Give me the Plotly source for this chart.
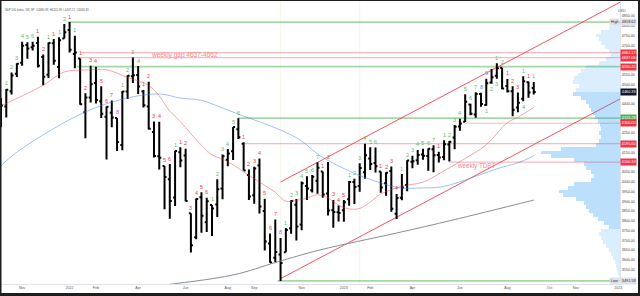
import plotly.graph_objects as go
import pandas as pd

# ---------------- weekly OHLC (S&P 500 Index, 1W) ----------------
first_week = "2021-10-04"
opens = [4348.8, 4385.4, 4463.7, 4553.7, 4610.6, 4701.5, 4689.3, 4712.0, 4640.2, 4548.4,
         4710.3, 4587.9, 4734.0, 4778.1, 4655.3, 4632.2, 4356.3, 4431.8, 4505.8, 4412.6,
         4332.7, 4354.2, 4327.0, 4188.8, 4462.4, 4541.1, 4548.0, 4462.6, 4385.6, 4255.3,
         4130.6, 4081.3, 4013.0, 3919.4, 4151.1, 4134.7, 3838.2, 3715.3, 3920.8, 3792.6,
         3880.9, 3883.8, 3965.7, 4112.4, 4155.9, 4269.4, 4195.1, 4034.6, 3930.9, 4083.7,
         3849.9, 3682.7, 3609.8, 3626.9, 3638.7, 3761.0, 3881.9, 3780.7, 3978.0, 3956.2,
         4005.4, 4052.0, 3939.3, 3853.8, 3843.3, 3853.3, 3910.8, 3999.3, 3978.1, 4049.3,
         4119.6, 4096.6, 4052.4, 3992.4, 4055.2, 3835.9, 3917.5, 3982.9, 4102.2, 4110.3,
         4140.2, 4132.1, 4166.8, 4137.0, 4126.7, 4190.8, 4226.7, 4283.0, 4308.3, 4396.1,
         4344.8, 4450.5, 4394.2, 4508.9, 4543.4, 4584.8, 4491.6, 4464.0, 4380.3, 4426.0,
         4510.1, 4481.0]
highs = [4429.9, 4475.8, 4559.7, 4608.1, 4718.5, 4714.9, 4717.8, 4743.8, 4652.9, 4713.6,
         4732.0, 4740.7, 4808.9, 4818.6, 4748.8, 4632.2, 4453.2, 4595.3, 4590.0, 4489.6,
         4385.3, 4416.8, 4327.0, 4465.4, 4546.0, 4637.3, 4593.5, 4471.0, 4512.9, 4308.5,
         4307.7, 4081.3, 4090.7, 4158.5, 4177.5, 4168.8, 3838.2, 3913.7, 3945.9, 3918.5,
         3880.9, 4012.4, 4140.2, 4167.7, 4280.5, 4325.3, 4203.0, 4063.0, 4076.8, 4119.3,
         3913.0, 3735.0, 3806.9, 3712.0, 3762.8, 3905.4, 3911.8, 4001.5, 4028.8, 4034.0,
         4100.5, 4052.5, 4101.0, 3906.6, 3878.4, 3906.1, 4004.0, 4015.4, 4094.2, 4195.4,
         4176.5, 4175.5, 4052.4, 4048.3, 4078.5, 3937.3, 4039.5, 4110.8, 4133.1, 4163.2,
         4169.5, 4170.1, 4186.9, 4154.3, 4212.9, 4209.0, 4290.7, 4322.6, 4448.5, 4400.2,
         4458.5, 4456.5, 4527.6, 4578.4, 4607.1, 4584.8, 4527.4, 4490.3, 4458.3, 4541.3,
         4514.3, 4512.0]
lows = [4278.9, 4329.9, 4447.5, 4537.4, 4595.1, 4630.9, 4672.8, 4585.4, 4495.1, 4532.3,
        4600.2, 4531.1, 4734.0, 4662.7, 4582.2, 4395.3, 4222.6, 4405.9, 4401.4, 4327.2,
        4114.7, 4279.5, 4157.9, 4161.7, 4424.3, 4506.0, 4450.0, 4381.3, 4267.6, 4124.3,
        4062.5, 3858.9, 3810.3, 3875.1, 4073.9, 3900.2, 3636.9, 3705.7, 3738.7, 3742.1,
        3721.6, 3818.6, 3910.7, 4079.8, 4112.1, 4218.7, 4057.7, 3906.2, 3886.8, 3837.1,
        3647.5, 3584.1, 3584.0, 3491.6, 3638.0, 3733.3, 3698.2, 3751.0, 3906.5, 3944.6,
        3938.6, 3918.4, 3827.1, 3764.5, 3796.0, 3794.3, 3877.3, 3885.5, 3949.1, 4015.6,
        4060.8, 4047.6, 3943.1, 3928.2, 3846.3, 3808.9, 3905.4, 3951.5, 4069.8, 4086.9,
        4113.2, 4056.0, 4048.3, 4098.9, 4109.9, 4104.0, 4166.2, 4261.1, 4307.0, 4341.0,
        4328.1, 4385.1, 4389.9, 4502.0, 4528.6, 4474.6, 4457.9, 4335.3, 4356.3, 4413.4,
        4430.5, 4447.2]
closes = [4391.3, 4471.4, 4544.9, 4605.4, 4697.5, 4682.9, 4698.0, 4594.6, 4538.4, 4712.0,
          4620.6, 4725.8, 4766.2, 4677.0, 4662.9, 4397.9, 4431.9, 4500.5, 4418.6, 4348.9,
          4384.7, 4328.9, 4204.3, 4463.1, 4543.1, 4545.9, 4488.3, 4392.6, 4271.8, 4131.9,
          4123.3, 4023.9, 3901.4, 4158.2, 4108.5, 3900.9, 3674.8, 3911.7, 3825.3, 3899.4,
          3863.2, 3961.6, 4130.3, 4145.2, 4280.2, 4228.5, 4057.7, 3924.3, 4067.4, 3873.3,
          3693.2, 3585.6, 3639.7, 3583.1, 3752.8, 3901.1, 3770.6, 3992.9, 3965.3, 4026.1,
          4071.7, 3934.4, 3852.4, 3844.8, 3839.5, 3895.1, 3999.1, 3972.6, 4070.6, 4136.5,
          4090.5, 4079.1, 3970.0, 4045.6, 3861.6, 3916.6, 3971.0, 4109.3, 4105.0, 4137.6,
          4133.5, 4169.5, 4136.2, 4124.1, 4192.0, 4205.5, 4282.4, 4298.9, 4409.6, 4348.3,
          4450.4, 4399.0, 4505.4, 4536.3, 4582.2, 4478.0, 4464.1, 4369.7, 4405.7, 4515.8,
          4457.5, 4460.3]

# TD sequential setup counts (above bars): g = sell setup, r = buy setup, m/b = highlighted 8/9
td_setup = ['', '1', '2', '3', '4', '5', '6', '1', '2', '1', '1', '1', '2', '1', '1',
            '1', '2', '3', '4', '5', '6', '7', '8', '1', '2', '3', '4', '1', '2', '3', '4', '5', '6',
            '1', '1', '2', '3', '4', '5', '6', '1', '2', '3', '4', '5', '6',
            '1', '2', '3', '4', '5', '6', '7', '8', '1', '2', '3', '4', '5', '6', '7',
            '1', '2', '3', '4', '5', '1', '2', '3', '4', '5', '6', '1', '2', '3', '4',
            '1', '2', '3', '4', '5', '6', '7', '1', '1', '2', '3', '4', '5', '6', '7', '8', '9',
            '', '1', '2', '1', '2', '3', '1', '1', '1']
td_kind = ("-gggggg" "rr" "g" "r" "gg" "r" "g" "rrrrrrr" "m" "gggg" "rrrrrr" "g" "rrrrrr"
           "gggggg" "rrrrrrr" "m" "ggggggg" "rrrrr" "gggggg" "rrrr" "ggggggg" "r" "ggggggg"
           "bb" "-" "gg" "rrr" "g" "r" "g")
# TD countdown (below bars)
cd_dates = ["2023-07-10", "2023-07-17", "2023-07-24", "2023-08-28"]
cd_text = ["1", "2", "3", "4"]

# moving averages
sma20_dates = ["2021-10-04", "2021-11-01", "2021-11-29", "2021-12-27", "2022-01-24", "2022-02-21",
               "2022-03-21", "2022-04-18", "2022-05-02", "2022-05-16", "2022-05-30", "2022-06-13",
               "2022-06-27", "2022-07-11", "2022-07-25", "2022-08-08", "2022-08-22", "2022-09-05",
               "2022-09-19", "2022-10-03", "2022-10-17", "2022-10-31", "2022-11-14", "2022-11-28",
               "2022-12-12", "2022-12-26", "2023-01-09", "2023-01-23", "2023-02-06", "2023-02-20",
               "2023-03-20", "2023-04-17", "2023-05-15", "2023-06-12", "2023-07-10", "2023-08-07",
               "2023-08-21", "2023-09-11"]
sma20 = [4390, 4440, 4495, 4563, 4573, 4574, 4535, 4494, 4440, 4362, 4308, 4246, 4187, 4138,
         4116, 4087, 4050, 4016, 3981, 3946, 3900, 3905, 3916, 3933, 3917, 3880, 3861, 3863,
         3896, 3937, 3977, 3998, 4056, 4119, 4190, 4303, 4331, 4381]
sma50_dates = ["2021-10-02", "2021-10-29", "2022-01-21", "2022-03-20", "2022-05-03", "2022-05-30",
               "2022-06-25", "2022-07-22", "2022-08-18", "2022-09-13", "2022-10-10", "2022-11-05",
               "2022-12-02", "2023-01-15", "2023-02-20", "2023-03-18", "2023-04-13", "2023-05-10",
               "2023-06-05", "2023-07-01", "2023-07-28", "2023-08-24", "2023-09-11"]
sma50 = [4076, 4163, 4353, 4429, 4450, 4429, 4419, 4383, 4342, 4306, 4265, 4214, 4132, 4045,
         3994, 3968, 3968, 3973, 3999, 4035, 4071, 4101, 4133]
sma200_dates = ["2022-03-15", "2022-04-29", "2022-08-08", "2022-10-05", "2022-12-01",
                "2023-03-13", "2023-05-27", "2023-09-11"]
sma200 = [3440, 3465, 3522, 3588, 3650, 3737, 3804, 3906]

# visible-range volume profile (relative volume per 20-pt row)
vp_price = list(range(3510, 4830, 20))
vp_volume = [1, 2, 3, 4, 5, 7, 9, 11, 14, 17, 19, 21, 19,
             11, 16, 22, 27, 31, 34, 36, 44, 57, 61, 52, 46,
             29, 26, 29, 34, 36, 46, 69, 79, 59, 24,
             21, 19, 21, 19, 20, 22, 25, 27, 29, 31, 34,
             39, 47, 44, 41, 47, 46, 42, 39, 34, 21, 14,
             9, 11, 15, 19, 21, 24, 19, 11, 7]
va_low, va_high = 3760, 4460

# horizontal levels
level_price = [4818.62, 4662.17, 4637.00, 4590.46, 4326.28, 4300.00, 4195.00, 4100.33, 3491.58]
level_start = ["2022-01-01", "2022-01-17", "2022-01-17", "2022-01-12", "2022-08-14",
               "2023-06-12", "2022-08-22", "2023-05-22", "2022-10-06"]
level_kind = ["g", "r", "r", "g", "g", "r", "r", "r", "g"]

# trend channel (parallel lines from the Oct-2022 low)
chan_x = ["2022-10-10", "2024-02-01"]
chan_lower = [3503, 4483]
chan_upper = [3999, 4979]

# price-scale labels
box_price = [4818.62, 4662.17, 4637.00, 4590.46, 4460.33, 4326.28, 4300.00, 4195.00, 4100.33, 3491.58]
box_kind = ["hl", "r", "r", "r", "cur", "g", "r", "r", "r", "hl"]
ytick_vals = [3550, 3600, 3650, 3700, 3750, 3800, 3850, 3900, 3950, 4000, 4050, 4150, 4250,
              4400, 4500, 4550, 4700, 4750, 4800, 4850]

month_ticks = ["2021-11-01", "2022-01-03", "2022-02-07", "2022-04-04", "2022-06-06", "2022-08-01",
               "2022-09-05", "2022-11-07", "2023-01-02", "2023-02-06", "2023-04-03", "2023-06-05",
               "2023-08-07", "2023-10-02", "2023-11-06", "2024-01-01"]
month_text = ["Nov", "2022", "Feb", "Apr", "Jun", "Aug", "Sep", "Nov", "2023", "Feb", "Apr", "Jun",
              "Aug", "Oct", "Nov", "2024"]

header = "S&P 500 Index, 1W, SP  O4480.98  H4511.99  L4447.21  C4460.33"

# ---------------- figure ----------------
dates = pd.date_range(first_week, periods=len(closes), freq="7D")
FONT = "Liberation Sans"
GREEN = "#4caf50"
RED = "#f23645"
kind_color = {"g": "#5cb85f", "r": "#f23645", "m": "#e040fb", "b": "#5b8def"}

fig = go.Figure()

vp_colors = ["rgba(33,150,243,0.30)" if va_low <= p <= va_high else "rgba(33,150,243,0.16)"
             for p in vp_price]
fig.add_trace(go.Bar(x=vp_volume, y=vp_price, orientation="h", xaxis="x2", yaxis="y",
                     width=20, marker=dict(color=vp_colors, line=dict(width=0)),
                     hoverinfo="skip", showlegend=False))

fig.add_trace(go.Scatter(x=sma200_dates, y=sma200, mode="lines",
                         line=dict(color="#8c8c8c", width=1, shape="spline"),
                         hoverinfo="skip", showlegend=False))
fig.add_trace(go.Scatter(x=sma50_dates, y=sma50, mode="lines",
                         line=dict(color="rgba(66,133,244,0.5)", width=1, shape="spline"),
                         hoverinfo="skip", showlegend=False))
fig.add_trace(go.Scatter(x=sma20_dates, y=sma20, mode="lines",
                         line=dict(color="rgba(242,54,69,0.45)", width=1, shape="spline"),
                         hoverinfo="skip", showlegend=False))

fig.add_trace(go.Ohlc(x=dates, open=opens, high=highs, low=lows, close=closes,
                      increasing=dict(line=dict(color="#000000", width=2)),
                      decreasing=dict(line=dict(color="#000000", width=2)),
                      tickwidth=0.38, hoverinfo="skip", showlegend=False))

shapes = []
for p, s, k in zip(level_price, level_start, level_kind):
    if k == "g":
        ln = dict(color="rgba(76,175,80,0.5)", width=1.6)
    else:
        ln = dict(color="rgba(242,54,69,0.35)", width=1.2)
    shapes.append(dict(type="line", xref="x", yref="y", x0=s, x1="2024-02-01", y0=p, y1=p,
                       line=ln, layer="below"))
for yy in (chan_lower, chan_upper):
    shapes.append(dict(type="line", xref="x", yref="y", x0=chan_x[0], x1=chan_x[1],
                       y0=yy[0], y1=yy[1], line=dict(color="rgba(242,54,69,0.85)", width=1),
                       layer="below"))
for vx in ("2022-10-10", "2023-01-23"):
    shapes.append(dict(type="line", xref="x", yref="paper", x0=vx, x1=vx, y0=0, y1=1,
                       line=dict(color="rgba(200,210,150,0.2)", width=1), layer="below"))

# dark frame around the screenshot
L, R, T, B, W, H = 0, 20, 1, 12, 640, 296
pw, ph = W - L - R, H - T - B
def px(x): return (x - L) / pw
def py(y): return (H - B - y) / ph
frame = "#1e1e1e"
for x0, y0, x1, y1 in [(0, 0, 640, 1), (0, 293, 640, 296), (0, 0, 1.5, 296), (638, 0, 640, 296)]:
    shapes.append(dict(type="rect", xref="paper", yref="paper", x0=px(x0), x1=px(x1),
                       y0=py(y1), y1=py(y0), fillcolor=frame, line=dict(width=0), layer="above"))

ann = []
for d, h, t, k in zip(dates, highs, td_setup, td_kind):
    if t and k != "-":
        ann.append(dict(x=d, y=h, text=t, showarrow=False, yshift=5.5, xref="x", yref="y",
                        font=dict(size=5.5, color=kind_color[k], family=FONT)))
low_by_date = dict(zip([str(d.date()) for d in dates], lows))
for d, t in zip(cd_dates, cd_text):
    ann.append(dict(x=d, y=low_by_date[d], text=t, showarrow=False, yshift=-5.5,
                    font=dict(size=5.5, color=kind_color["g"], family=FONT)))

ann.append(dict(x="2022-04-18", y=4649, text="weekly gap 4637-4662", showarrow=False,
                xanchor="left", font=dict(size=6.5, color="#f5848c", family=FONT)))
ann.append(dict(x="2023-05-30", y=4081, text="weekly TDST", showarrow=False,
                xanchor="left", font=dict(size=6.3, color="#f5848c", family=FONT)))

for p, k in zip(box_price, box_kind):
    if k == "hl":
        bg, fc = "#dfe2ea", "#2a2e39"
    elif k == "cur":
        bg, fc = "#131722", "#ffffff"
    elif k == "g":
        bg, fc = GREEN, "#ffffff"
    else:
        bg, fc = RED, "#ffffff"
    ann.append(dict(xref="paper", x=1.0, y=p, yref="y", xanchor="left", text=f"{p:.2f}",
                    showarrow=False, bgcolor=bg, borderpad=0.8,
                    font=dict(size=3.8, color=fc, family=FONT)))
for p, t in ((4818.62, "High"), (3491.58, "Low")):
    ann.append(dict(xref="paper", x=1.0, xshift=-0.5, y=p, yref="y", xanchor="right", text=t,
                    showarrow=False, bgcolor="#dfe2ea", borderpad=0.8,
                    font=dict(size=3.8, color="#2a2e39", family=FONT)))

ann.append(dict(xref="paper", yref="paper", x=px(628), y=py(6.5), text="USD", showarrow=False,
                font=dict(size=3.6, color="#555", family=FONT)))
ann.append(dict(xref="paper", yref="paper", x=px(3), y=py(5.5), xanchor="left", text=header,
                showarrow=False, font=dict(size=2.8, color="#555", family=FONT)))

fig.update_layout(
    width=W, height=H, margin=dict(l=L, r=R, t=T, b=B),
    paper_bgcolor="white", plot_bgcolor="white", showlegend=False,
    font=dict(family=FONT),
    bargap=0,
    xaxis=dict(type="date", range=["2021-10-02 15:36", "2024-01-03 11:17"],
               tickvals=month_ticks, ticktext=month_text, ticks="", showgrid=False,
               zeroline=False, showline=True, linecolor="#e0e3eb", linewidth=1,
               tickfont=dict(size=3.6, color="#555"), rangeslider=dict(visible=False),
               fixedrange=True),
    xaxis2=dict(overlaying="x", range=[620, 0], visible=False, fixedrange=True),
    yaxis=dict(side="right", range=[3475.6, 4926.9], tickvals=ytick_vals,
               ticktext=[f"{v:.2f}" for v in ytick_vals], ticks="", showgrid=False,
               zeroline=False, showline=True, linecolor="#e0e3eb", linewidth=1,
               tickfont=dict(size=3.6, color="#444"), fixedrange=True),
    shapes=shapes, annotations=ann,
)

fig.write_html("out.html")
